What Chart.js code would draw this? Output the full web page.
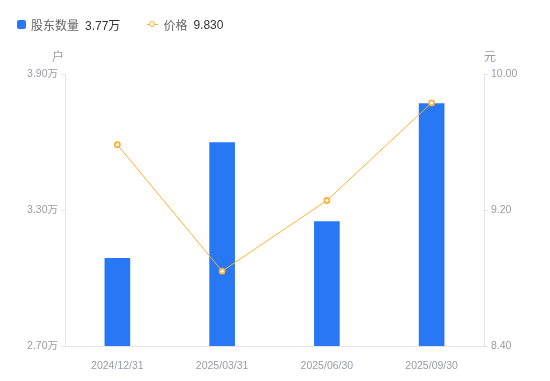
<!DOCTYPE html>
<html>
<head>
<meta charset="utf-8">
<script src="https://cdn.jsdelivr.net/npm/chart.js@4"></script>
<style>
  body { margin:0; background:#fff; font-family:"Liberation Sans","Noto Sans CJK SC",sans-serif; }
  #wrap { position:relative; width:550px; height:381px; }
  #legend { position:absolute; left:17px; top:16px; font-size:12px; color:#666; display:flex; align-items:center; }
  #legend .item { display:flex; align-items:center; margin-right:27px; }
  #legend .sq { width:9px; height:9px; background:#2878f5; border-radius:2px; margin-right:5px; }
  #legend .val { color:#333; margin-left:6px; }
  #legend .ln { position:relative; width:11px; height:9px; margin-right:5px; }
  #legend .ln:before { content:''; position:absolute; left:0; right:0; top:4px; height:1px; background:#f9b234; }
  #legend .ln:after { content:''; position:absolute; left:2px; top:1px; width:4px; height:4px; border:1.5px solid #f9b234; border-radius:50%; background:#fff; }
</style>
</head>
<body>
<div id="wrap">
  <canvas id="c" width="550" height="381"></canvas>
  <div id="legend">
    <div class="item"><span class="sq"></span>股东数量<span class="val">3.77万</span></div>
    <div class="item"><span class="ln"></span>价格<span class="val">9.830</span></div>
  </div>
</div>
<script>
// data
const dates   = ['2024/12/31', '2025/03/31', '2025/06/30', '2025/09/30'];
const holders = [3.087, 3.597, 3.249, 3.770];   // 万户
const prices  = [9.584, 8.840, 9.256, 9.830];   // 元
const leftTicks  = [2.70, 3.30, 3.90];
const rightTicks = [8.40, 9.20, 10.00];

const BLUE = '#2878f5', ORANGE = '#f9b234', AXIS = '#e3e3e8', TICKC = '#9b9ba8';
const FONT = '"Liberation Sans","Noto Sans CJK SC",sans-serif';

// unit labels above the axes
const unitLabels = {
  id: 'unitLabels',
  afterDraw(chart) {
    const { ctx, chartArea } = chart;
    ctx.save();
    ctx.font = '12px ' + FONT;
    ctx.fillStyle = TICKC;
    ctx.textBaseline = 'middle';
    ctx.textAlign = 'center';
    ctx.fillText('户', chartArea.left - 7, chartArea.top - 16);
    ctx.fillText('元', chartArea.right + 6, chartArea.top - 16);
    ctx.restore();
  }
};

new Chart(document.getElementById('c'), {
  data: {
    labels: dates,
    datasets: [
      {
        type: 'line', label: '价格', data: prices, yAxisID: 'y1',
        borderColor: ORANGE, borderWidth: 1, backgroundColor: '#fff',
        pointRadius: 2.5, pointBorderWidth: 1.8, pointBackgroundColor: '#fff',
        pointBorderColor: ORANGE, tension: 0, order: 1,
      },
      {
        type: 'bar', label: '股东数量', data: holders, yAxisID: 'y',
        backgroundColor: BLUE, barThickness: 25, order: 2,
      },
    ]
  },
  options: {
    responsive: false,
    animation: false,
    layout: { padding: { top: 74, right: 0, left: 0, bottom: 0 } },
    plugins: { legend: { display: false }, tooltip: { enabled: false } },
    scales: {
      x: {
        grid: { display: false },
        border: { color: AXIS },
        ticks: { color: TICKC, font: { family: FONT, size: 10.5 }, padding: 6, maxRotation: 0 },
        afterFit(s) { s.height = 35; },
      },
      y: {
        position: 'left', min: 2.7, max: 3.9,
        afterBuildTicks(s) { s.ticks = leftTicks.map(v => ({ value: v })); },
        grid: { drawOnChartArea: false, color: AXIS, tickLength: 4 },
        border: { color: AXIS },
        ticks: { color: TICKC, font: { family: FONT, size: 10.5 }, padding: 3,
                 callback: v => v.toFixed(2) + '万' },
        afterFit(s) { s.width = 65; },
      },
      y1: {
        position: 'right', min: 8.4, max: 10.0,
        afterBuildTicks(s) { s.ticks = rightTicks.map(v => ({ value: v })); },
        grid: { drawOnChartArea: false, color: AXIS, tickLength: 4 },
        border: { color: AXIS },
        ticks: { color: TICKC, font: { family: FONT, size: 10.5 }, padding: 3,
                 callback: v => v.toFixed(2) },
        afterFit(s) { s.width = 66; },
      },
    }
  },
  plugins: [unitLabels]
});
</script>
</body>
</html>
